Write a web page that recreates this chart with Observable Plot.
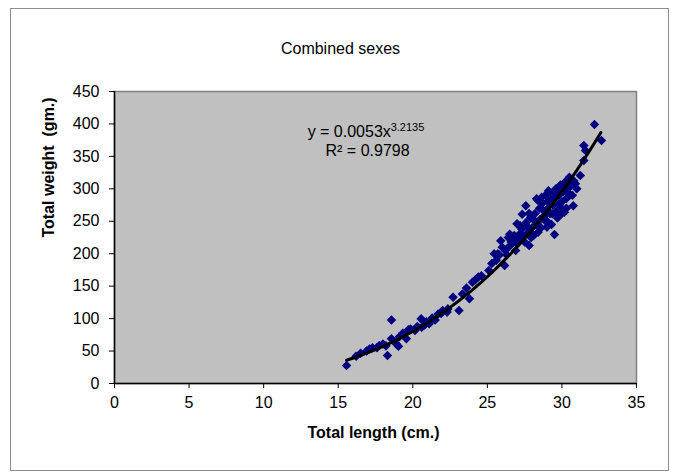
<!DOCTYPE html>
<html>
<head>
<meta charset="utf-8">
<script src="https://cdn.jsdelivr.net/npm/d3@7"></script>
<script src="https://cdn.jsdelivr.net/npm/@observablehq/plot@0.6"></script>
<style>
  html, body { margin: 0; padding: 0; background: #fff; }
  #chart { width: 676px; height: 473px; }
</style>
</head>
<body>
<div id="chart"></div>
<script>
// ---- data ----
const lengths = [
  15.56, 16.2, 16.5, 16.9, 17.1, 17.3, 17.6, 17.75, 18.0, 18.2, 18.3, 18.57, 18.57, 18.9, 19.04, 19.1,
  19.33, 19.57, 19.7, 19.85, 20.15, 20.3, 20.56, 20.6, 20.8, 20.9, 21.1, 21.3, 21.5, 21.7, 21.9,
  22.0, 22.3, 22.35, 22.7, 23.1, 23.33, 23.6, 23.8, 24.0, 24.2, 24.4, 24.6, 25.1, 25.3, 25.46, 25.6,
  25.7, 25.8, 25.9, 26.0, 26.16, 26.2, 26.3, 26.4, 26.5, 26.5, 26.6, 26.75, 26.8, 26.9, 26.99,
  27.0, 27.1, 27.2, 27.2, 27.3, 27.34, 27.4, 27.5, 27.58, 27.6, 27.7, 27.7, 27.8, 27.8, 27.9, 27.93,
  28.0, 28.1, 28.17, 28.2, 28.3, 28.3, 28.4, 28.4, 28.5, 28.5, 28.6, 28.64, 28.7, 28.76, 28.8, 28.88,
  28.9, 29.0, 29.0, 29.0, 29.1, 29.1, 29.2, 29.2, 29.3, 29.3, 29.35, 29.4, 29.5, 29.5, 29.6, 29.6,
  29.7, 29.7, 29.8, 29.8, 29.9, 29.9, 30.0, 30.0, 30.05, 30.1, 30.17, 30.2, 30.3, 30.3, 30.4, 30.4,
  30.5, 30.5, 30.6, 30.7, 30.76, 30.8, 30.9, 31.0, 31.23, 31.47, 31.47, 31.58, 32.18, 32.65
];
const weights = [
  27.7, 42, 46.7, 50, 53, 55, 55, 58.6, 61, 58, 43, 98, 69, 61, 57.5, 72,
  77.6, 69, 82.7, 84, 81.7, 88, 99.6, 86.8, 90, 95, 92, 101, 98, 107, 108,
  112.5, 110, 115, 133, 112.5, 138, 147, 130.5, 156, 160, 164, 166, 174, 185, 200, 190,
  200, 198, 220, 210, 182, 205, 198, 225, 212, 230, 218, 220, 228, 205, 246,
  215, 222, 231, 243, 238, 261, 226, 218, 274, 248, 241, 232, 212.7, 262, 256, 225,
  240, 228, 251, 262, 284.6, 245, 233, 282, 270, 252, 240, 287, 278, 266.6, 258, 251,
  290, 241, 268, 250, 297, 282, 277, 262, 292, 245, 261.5, 275, 229.6, 286, 265, 300,
  297, 255, 277, 290, 306, 272, 280, 262, 302.5, 296, 264, 310, 285, 270, 312.8, 300,
  292, 318, 305, 290, 274, 312, 307.7, 300, 320.5, 366.8, 343.6, 359, 399, 374.5
];
const xTicks = [0, 5, 10, 15, 20, 25, 30, 35];
const yTicks = [0, 50, 100, 150, 200, 250, 300, 350, 400, 450];
const titleText = "Combined sexes";
const xLabel = "Total length (cm.)";
const yLabel = "Total weight  (gm.)";
// power trend line y = a * x^b (as printed on the chart)
const trendA = 0.0053;
const trendB = 3.2135;
const eqMain = "y = 0.0053x";
const eqExp = "3.2135";
const eqR2 = "R² = 0.9798";
const eqAnchor = {x: 12.95, y: 387.5};
const r2Anchor = {x: 14.15, y: 358};

const points = lengths.map((l, i) => ({length: l, weight: weights[i]}));
const [xmin, xmax] = d3.extent(lengths);
const trend = d3.range(xmin, xmax + 0.0001, 0.05).map(x => ({length: x, weight: trendA * Math.pow(x, trendB)}));

const chart = Plot.plot({
  width: 676,
  height: 473,
  marginLeft: 114,
  marginRight: 40,
  marginTop: 91,
  marginBottom: 90,
  style: {fontFamily: "'Liberation Sans', Arial, sans-serif", fontSize: "16px", background: "white", color: "black"},
  x: {domain: [0, 35], ticks: xTicks, label: null},
  y: {domain: [0, 450], ticks: yTicks, label: null},
  marks: [
    Plot.frame({fill: "#c0c0c0", stroke: "#808080", strokeWidth: 1.5}),
    Plot.axisX({ticks: xTicks, tickSize: 5, tickPadding: 8, label: null, fontSize: 16}),
    Plot.axisY({ticks: yTicks, tickSize: 5, tickPadding: 10, label: null, fontSize: 16}),
    Plot.ruleX([0], {stroke: "black", strokeWidth: 1.5}),
    Plot.ruleY([0], {stroke: "black", strokeWidth: 1.5}),
    Plot.dot(points, {x: "length", y: "weight", symbol: "square", rotate: 45, r: 3.8, fill: "#000080", stroke: "none"}),
    Plot.line(trend, {x: "length", y: "weight", stroke: "black", strokeWidth: 3, curve: "linear"}),
    Plot.text([eqMain], {x: eqAnchor.x, y: eqAnchor.y, text: d => d, textAnchor: "start", fontSize: 16, fill: "black"}),
    Plot.text([eqExp], {x: eqAnchor.x, y: eqAnchor.y, text: d => d, textAnchor: "start", fontSize: 11, dx: 83, dy: -5, fill: "black"}),
    Plot.text([eqR2], {x: r2Anchor.x, y: r2Anchor.y, text: d => d, textAnchor: "start", fontSize: 16, fill: "black"}),
    Plot.text([titleText], {frameAnchor: "top", text: d => d, dx: -35, dy: -49, fontSize: 16, fill: "black"}),
    Plot.text([xLabel], {frameAnchor: "bottom", text: d => d, dx: -2, dy: 54, fontSize: 16, fontWeight: "bold", fill: "black"}),
    Plot.text([yLabel], {frameAnchor: "left", text: d => d, dx: -66, dy: 0, rotate: -90, fontSize: 16, fontWeight: "bold", fill: "black"})
  ]
});

// outer chart-area border (decoration)
d3.select(chart).insert("rect", ":first-child")
  .attr("x", 10.5).attr("y", 8.5).attr("width", 658).attr("height", 462)
  .attr("fill", "white").attr("stroke", "#8c8c8c").attr("stroke-width", 1);

document.getElementById("chart").appendChild(chart);
</script>
</body>
</html>
